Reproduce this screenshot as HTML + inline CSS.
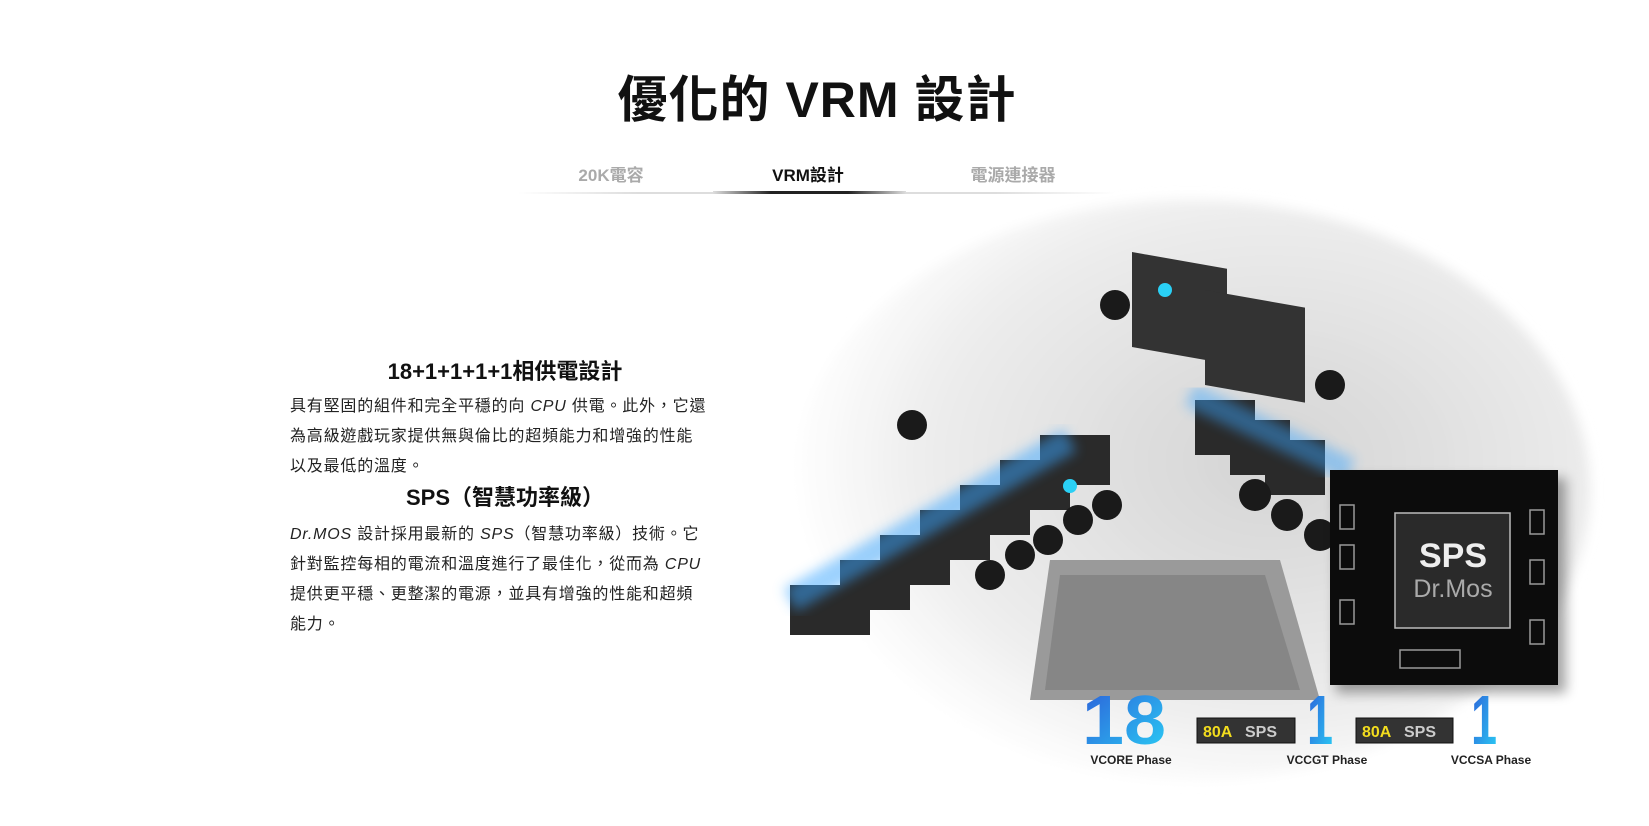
<!DOCTYPE html>
<html><head><meta charset="utf-8"><style>
body{margin:0;width:1649px;height:826px;background:#fff;overflow:hidden;position:relative;font-family:"Liberation Sans","Noto Sans CJK TC",sans-serif;color:#111}
.a{position:absolute}
h1{position:absolute;left:0;width:1634px;top:60px;margin:0;text-align:center;font-size:50px;font-weight:bold;letter-spacing:1px}
.tab{position:absolute;top:161px;font-size:17px;font-weight:bold;transform:translateX(-50%);color:#aaa}
p{margin:0;font-size:16px;line-height:30px;letter-spacing:.8px;color:#222;white-space:nowrap}
.h{font-weight:bold;font-size:22px;text-align:center}
</style></head><body>
<h1>優化的 VRM 設計</h1>
<div class="tab" style="left:611px">20K電容</div>
<div class="tab" style="left:808px;color:#111">VRM設計</div>
<div class="tab" style="left:1013px">電源連接器</div>
<div class="a" style="left:518px;top:192px;width:597px;height:2px;background:linear-gradient(90deg,#fff,#ddd 20%,#ddd 80%,#fff)"></div>
<div class="a" style="left:713px;top:191px;width:193px;height:3px;background:linear-gradient(90deg,#ddd,#222 30%,#222 70%,#ddd)"></div>

<div class="a" style="left:290px;top:354px;width:430px">
<div class="h">18+1+1+1+1相供電設計</div>
<p style="margin-top:6px">具有堅固的組件和完全平穩的向 <i>CPU</i> 供電。此外，它還<br>為高級遊戲玩家提供無與倫比的超頻能力和增強的性能<br>以及最低的溫度。</p>
<div class="h" style="margin-top:-2px">SPS（智慧功率級）</div>
<p style="margin-top:8px"><i>Dr.MOS</i> 設計採用最新的 <i>SPS</i>（智慧功率級）技術。它<br>針對監控每相的電流和溫度進行了最佳化，從而為 <i>CPU</i><br>提供更平穩、更整潔的電源，並具有增強的性能和超頻<br>能力。</p>
</div>

<svg class="a" style="left:0;top:0" width="1649" height="826">
<defs>
<radialGradient id="bg" cx="0.6" cy="0.45" r="0.6"><stop offset="0" stop-color="#d4d4d4"/><stop offset="0.7" stop-color="#ececec"/><stop offset="1" stop-color="#fff"/></radialGradient>
<linearGradient id="n" x1="0" y1="0" x2="1" y2="1"><stop offset="0" stop-color="#2d5bd8"/><stop offset="1" stop-color="#2ad0f5"/></linearGradient>
<filter id="bl"><feGaussianBlur stdDeviation="6"/></filter>
</defs>
<ellipse cx="1190" cy="490" rx="400" ry="290" fill="url(#bg)" filter="url(#bl)"/>
<path d="M1050 560 L1280 560 L1320 700 L1030 700 Z" fill="#9a9a9a"/>
<path d="M1060 575 L1265 575 L1300 690 L1045 690 Z" fill="#7a7a7a" opacity=".6"/>
<g fill="#333"><rect x="1132" y="252" width="95" height="95" transform="skewY(10)" transform-origin="1132 252"/><rect x="1205" y="290" width="100" height="95" transform="skewY(10)" transform-origin="1205 290"/></g>
<circle cx="1165" cy="290" r="7" fill="#2ad0f5"/>
<g>
<g fill="#2a2a2a">
<rect x="790" y="585" width="80" height="50"/><rect x="840" y="560" width="70" height="50"/><rect x="880" y="535" width="70" height="50"/><rect x="920" y="510" width="70" height="50"/><rect x="960" y="485" width="70" height="50"/><rect x="1000" y="460" width="70" height="50"/><rect x="1040" y="435" width="70" height="50"/>
</g>
<path d="M790 600 L1070 440" stroke="#3aa6ff" stroke-width="26" opacity=".5" filter="url(#bl)"/>
<circle cx="1070" cy="486" r="7" fill="#2ad0f5"/>
<g fill="#1a1a1a"><circle cx="990" cy="575" r="15"/><circle cx="1020" cy="555" r="15"/><circle cx="1048" cy="540" r="15"/><circle cx="1078" cy="520" r="15"/><circle cx="1107" cy="505" r="15"/><circle cx="912" cy="425" r="15"/><circle cx="1115" cy="305" r="15"/><circle cx="1330" cy="385" r="15"/></g>
</g>
<g fill="#2a2a2a"><rect x="1195" y="400" width="60" height="55"/><rect x="1230" y="420" width="60" height="55"/><rect x="1265" y="440" width="60" height="55"/></g>
<path d="M1190 395 L1350 470" stroke="#3aa6ff" stroke-width="24" opacity=".45" filter="url(#bl)"/>
<g fill="#1a1a1a"><circle cx="1255" cy="495" r="16"/><circle cx="1287" cy="515" r="16"/><circle cx="1320" cy="535" r="16"/></g>
<rect x="1336" y="478" width="230" height="215" fill="#000" opacity=".35" filter="url(#bl)"/>
<rect x="1330" y="470" width="228" height="215" fill="#0c0c0c"/>
<rect x="1395" y="513" width="115" height="115" fill="#2a2a2a" stroke="#bbb" stroke-width="1.5"/>
<text x="1453" y="567" text-anchor="middle" font-family="Liberation Sans" font-weight="bold" font-size="34" fill="#eee">SPS</text>
<text x="1453" y="597" text-anchor="middle" font-family="Liberation Sans" font-size="25" fill="#aaa">Dr.Mos</text>
<g fill="none" stroke="#999" stroke-width="1.5"><rect x="1340" y="505" width="14" height="24"/><rect x="1340" y="545" width="14" height="24"/><rect x="1340" y="600" width="14" height="24"/><rect x="1530" y="510" width="14" height="24"/><rect x="1530" y="560" width="14" height="24"/><rect x="1530" y="620" width="14" height="24"/><rect x="1400" y="650" width="60" height="18"/></g>
<text x="1082" y="744" font-family="Liberation Sans" font-weight="bold" font-size="70" fill="url(#n)" textLength="84" lengthAdjust="spacingAndGlyphs">18</text>
<text x="1307" y="744" font-family="Liberation Sans" font-weight="bold" font-size="70" fill="url(#n)" textLength="26" lengthAdjust="spacingAndGlyphs">1</text>
<text x="1471" y="744" font-family="Liberation Sans" font-weight="bold" font-size="70" fill="url(#n)" textLength="26" lengthAdjust="spacingAndGlyphs">1</text>
<g font-family="Liberation Sans" font-weight="bold" font-size="16">
<rect x="1197" y="718" width="98" height="25" fill="#333" stroke="#111"/>
<text x="1203" y="737" fill="#f2dc1e">80A</text><text x="1245" y="737" fill="#ccc">SPS</text>
<rect x="1356" y="718" width="97" height="25" fill="#333" stroke="#111"/>
<text x="1362" y="737" fill="#f2dc1e">80A</text><text x="1404" y="737" fill="#ccc">SPS</text>
</g>
<g font-family="Liberation Sans" font-weight="bold" font-size="12" fill="#222" text-anchor="middle">
<text x="1131" y="764">VCORE Phase</text><text x="1327" y="764">VCCGT Phase</text><text x="1491" y="764">VCCSA Phase</text>
</g>
</svg>
</body></html>
